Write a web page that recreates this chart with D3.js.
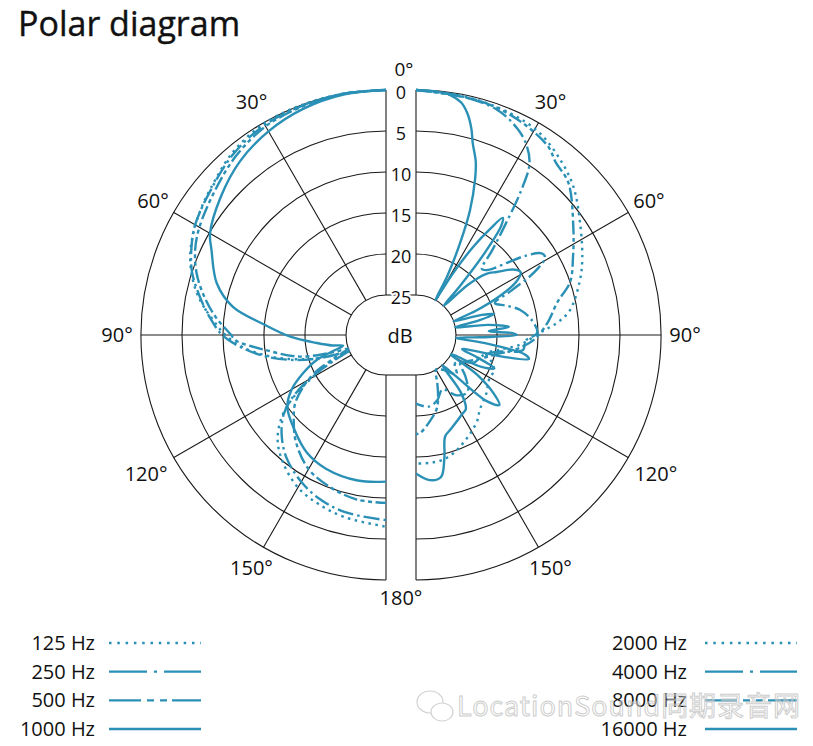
<!DOCTYPE html>
<html>
  <head>
    <meta charset="utf-8">
    <style>
    body {
      margin: 0;
      background: #fff;
    }
    text {
      font-family: "Open Sans", "Noto Sans", sans-serif;
      fill: #111;
    }
    .grid {
      fill: none;
      stroke: #1a1a1a;
      stroke-width: 1.1px;
    }
    .curve {
      fill: none;
      stroke: #2a90b6;
      stroke-width: 2.4px;
    }
    </style>
    <script src="https://cdn.jsdelivr.net/npm/d3@7"></script>
  </head>
  <body>
    <script>
    // dB scale (attenuation, 0 at the outer ring)
    var dbTicks = [0, 5, 10, 15, 20, 25];
    var angleTicks = [30, 60, 90, 120, 150];

    var leftNames = ["125 Hz", "250 Hz", "500 Hz", "1000 Hz"];
    var rightNames = ["2000 Hz", "4000 Hz", "8000 Hz", "16000 Hz"];

    // [angle in degrees, attenuation in dB]
    var hz125 = [[0,0],[10,0],[20,0],[30,0.1],[40,0.8],[50,2],[56,2.6],[63,3.4],[69,4.3],[75,5.6],[80,7],[85,8.7],[90,10.3],[95,12.4],[101,15.8],[107,19.8],[111,23],[113,25],[116,22.5],[120,19.5],[124,16.2],[128,13.8],[134,11.5],[141,9.9],[150,8.4],[158,7.7],[167,7.1],[180,6.5]];
    var hz250 = [[0,0],[10,0],[20,0.1],[30,0.3],[40,1],[50,2.1],[60,3],[66,3.9],[72,5],[78,6.6],[84,8.2],[90,9.9],[95,12.2],[101,15.5],[107,19.5],[111,23],[113,25],[116,23],[120,19],[124,16],[128,14],[134,12.2],[141,10.6],[150,9.2],[158,8.3],[167,7.7],[180,7.3]];
    var hz500 = [[0,0],[10,0],[20,0.2],[30,0.5],[40,1.4],[50,2.6],[60,3.6],[66,4.4],[72,5.6],[78,7.2],[84,9],[90,11],[92,11.5],[97,15],[104,19],[108,23],[110,25],[114,23],[118,20],[122,18],[127,16],[133,14.5],[140,12.8],[150,11],[160,10.1],[170,9.5],[180,9.4]];
    var hz1000 = [[0,0],[10,0.1],[20,0.5],[30,1.2],[40,2.2],[50,3.6],[60,5.1],[64,6.2],[73,8.3],[79.6,10.9],[85,14.9],[91,18.2],[96.6,21.4],[101,23.2],[104,24.5],[107,23],[110,20.8],[114.6,18.8],[120,16.6],[126,15],[136,13.8],[146,12.6],[156,12],[169,11.8],[180,12]];

    var hz2000 = [[0,0],[12,0.2],[23,0.5],[31.5,1],[39.5,2.2],[46.7,3.5],[55,5.5],[65,7.5],[72,8.9],[81,10.9],[85,12.6],[89,14.8],[95,17],[100,19.5],[105,21],[110,20],[115,19.4],[120,19.5],[130,18.7],[139.5,17.9],[144,17.1],[150,16.3],[156.5,15.5],[162,14.8],[168,14.3],[174,14.2],[180,14.2]];
    var hz4000 = [[0,0],[10,0.2],[20,0.7],[26,1.8],[30,3],[33.5,4.8],[36,8],[39,12.6],[42,16],[45,18.5],[48,18],[51.6,15.7],[54,13.5],[57,11.6],[59,11.5],[62,13.5],[65,17],[68,19.5],[72,18.3],[76.5,16.8],[83,15.6],[89,15.1],[93,16.5],[98,16.7],[102,20],[108,21.5],[115,22],[122,23.5],[130,22],[138,20.5],[146,21],[154,22.5],[162,21.5],[170,21],[180,21.5]];
    var hz8000 = [[0,0],[15,0.3],[25,0.8],[35,1.8],[39,2.8],[45,3.6],[55.5,6.6],[63.6,8.5],[71,10],[77,12.2],[84.8,13.8],[92.4,15.5],[98,17.5],[104,20],[110,21.5],[118,23],[126,24],[134,23],[142,24.5],[150,25],[156,23.5],[160,22],[164,20.6],[170,19.4],[177.7,17.9],[180,17.8]];
    var hz16000 = [[0,0],[5,0.1],[8,0.3],[11,1],[13,2.1],[15,3.8],[16.5,5.5],[19,7.5],[20.8,9.6],[23.4,13.3],[25.6,17.4],[28,21.8],[29,25],[31,21],[33,17],[35,14],[36.5,12.1],[38,13],[40,17],[42,22],[43.5,25],[46,21],[49,18.5],[52,17.4],[56,15.6],[59,15],[62,16],[65,18.5],[68,22],[70,25],[73,21.5],[75,20],[77,22],[79,25],[82,21],[85,18.5],[87,21],[89,18],[90,17.6],[92,22],[94,25],[97,21],[100,16.5],[102,15.8],[104,19],[107,24],[110,22],[113,19.5],[116,21],[119,25],[123,21],[127,18],[130,16.6],[133,18],[136,23],[139,25],[142,21],[146,19],[150,18.7],[155,18.2],[160,17.6],[164,17],[167,14.5],[170,12.3],[174.5,12.1],[180,13]];

    var leftData = [hz125, hz250, hz500, hz1000];
    var rightData = [hz2000, hz4000, hz8000, hz16000];

    // line styles: dotted, dash-dot, dash-dot-dot, solid
    var curveDash = ["2.5,4.5", "16,4,2.5,4", "14,3.5,4,3.5,4,3.5", null];
    var legendDash = ["2.5,5.8", "38,7,3,7", "32,6,7,6,7,5", null];

    var width = 813, height = 746;
    var cy = 335;
    var halves = [
      {cx: 386, s: -1, names: leftNames, data: leftData},
      {cx: 416, s: 1, names: rightNames, data: rightData}
    ];

    var r = d3.scaleLinear().domain([25, 0]).range([40, 245]).clamp(true);

    var svg = d3.select("body").append("svg")
        .attr("width", width)
        .attr("height", height);

    svg.append("text")
        .attr("x", 18)
        .attr("y", 36)
        .style("font-size", "34px")
        .style("stroke", "#111")
        .style("stroke-width", "0.4px")
        .text("Polar diagram");

    var rad = Math.PI / 180;

    halves.forEach(function(h) {
      var g = svg.append("g");

      // rings
      dbTicks.forEach(function(d) {
        var p = d3.path();
        p.moveTo(h.cx, cy - r(d));
        p.arc(h.cx, cy, r(d), -Math.PI / 2, Math.PI / 2, h.s < 0);
        g.append("path").attr("class", "grid").attr("d", p.toString());
      });

      // spokes, incl. the straight 0 and 180 edges
      [0].concat(angleTicks, [180]).forEach(function(a) {
        g.append("line").attr("class", "grid")
          .attr("x1", h.cx + h.s * r(25) * Math.sin(a * rad))
          .attr("y1", cy - r(25) * Math.cos(a * rad))
          .attr("x2", h.cx + h.s * r(0) * Math.sin(a * rad))
          .attr("y2", cy - r(0) * Math.cos(a * rad));
      });

      angleTicks.forEach(function(a) {
        var lr = a == 120 ? 277 : 269;
        g.append("text")
          .attr("x", h.cx + h.s * lr * Math.sin(a * rad))
          .attr("y", cy - lr * Math.cos(a * rad))
          .attr("text-anchor", "middle")
          .attr("dy", "0.35em")
          .style("font-size", "20px")
          .text(a + "°");
      });

      var line = d3.lineRadial()
          .angle(function(d) { return h.s * d[0] * rad; })
          .radius(function(d) { return r(d[1]); })
          .curve(d3.curveCatmullRom.alpha(0.5));

      var cg = svg.append("g").attr("transform", "translate(" + h.cx + "," + cy + ")");
      h.data.forEach(function(series, i) {
        cg.append("path")
          .attr("class", "curve")
          .attr("d", line(series))
          .style("stroke-dasharray", curveDash[i]);
      });
    });

    // join the two inner half circles
    [cy - r(25), cy + r(25)].forEach(function(y) {
      svg.append("line").attr("class", "grid")
        .attr("x1", 386).attr("x2", 416).attr("y1", y).attr("y2", y);
    });

    // dB tick labels between the halves
    svg.selectAll(".dbtick")
      .data(dbTicks)
      .enter().append("text")
      .attr("x", 401)
      .attr("y", function(d) { return cy - r(d) + 3; })
      .attr("text-anchor", "middle")
      .attr("dy", "0.35em")
      .style("font-size", "18px")
      .style("stroke", "#fff")
      .style("stroke-width", "4px")
      .style("paint-order", "stroke")
      .text(function(d) { return d; });

    svg.append("text").attr("x", 400).attr("y", 336).attr("dy", "0.35em")
      .attr("text-anchor", "middle").style("font-size", "20px").text("dB");
    svg.append("text").attr("x", 404).attr("y", 69).attr("dy", "0.35em")
      .attr("text-anchor", "middle").style("font-size", "19px").text("0°");
    svg.append("text").attr("x", 401).attr("y", 598).attr("dy", "0.35em")
      .attr("text-anchor", "middle").style("font-size", "20px").text("180°");

    // legend
    var legY = d3.scalePoint().domain(d3.range(4)).range([643, 729]);
    var legends = [
      {names: leftNames, tx: 95, x1: 109, x2: 201},
      {names: rightNames, tx: 687, x1: 705, x2: 797}
    ];
    legends.forEach(function(L) {
      L.names.forEach(function(n, i) {
        svg.append("text")
          .attr("x", L.tx)
          .attr("y", legY(i) + 7)
          .attr("text-anchor", "end")
          .style("font-size", "20px")
          .text(n);
        svg.append("line")
          .attr("class", "curve")
          .attr("x1", L.x1).attr("x2", L.x2)
          .attr("y1", legY(i)).attr("y2", legY(i))
          .style("stroke-dasharray", legendDash[i]);
      });
    });

    // watermark
    var wm = svg.append("g").style("opacity", 0.75);
    wm.append("ellipse").attr("cx", 430).attr("cy", 702).attr("rx", 13).attr("ry", 11)
      .style("fill", "#fff").style("stroke", "#c4c4c4").style("stroke-width", 1.2);
    wm.append("ellipse").attr("cx", 442).attr("cy", 712).attr("rx", 11).attr("ry", 9)
      .style("fill", "#fff").style("stroke", "#c4c4c4").style("stroke-width", 1.2);
    wm.append("text")
      .attr("x", 457).attr("y", 716)
      .attr("textLength", 343)
      .style("font-size", "27px")
      .style("font-family", "'Noto Sans CJK SC', 'Open Sans', sans-serif")
      .style("fill", "#fff")
      .style("fill-opacity", 0.55)
      .style("stroke", "#bdbdbd")
      .style("stroke-width", 1)
      .text("LocationSound同期录音网");
    </script>
  </body>
</html>
